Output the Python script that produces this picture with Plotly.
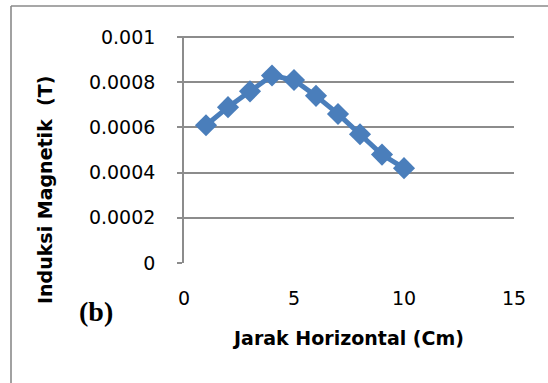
import plotly.graph_objects as go

# Horizontal distance (cm) and measured magnetic induction (T)
jarak_cm = [1, 2, 3, 4, 5, 6, 7, 8, 9, 10]
induksi_T = [0.00061, 0.00069, 0.00076, 0.00083, 0.00081,
             0.00074, 0.00066, 0.00057, 0.00048, 0.00042]

y_tickvals = [0, 0.0002, 0.0004, 0.0006, 0.0008, 0.001]
y_ticktext = ["0", "0.0002", "0.0004", "0.0006", "0.0008", "0.001"]
x_tickvals = [0, 5, 10, 15]
x_ticktext = ["0", "5", "10", "15"]

BLUE = "#4a7ebb"
GRID = "#8c8c8c"
TICK_FONT = dict(family="DejaVu Sans", size=19, color="#000000")

W, H = 548, 383
L, R, T, B = 184, 34, 36, 120
pw, ph = W - L - R, H - T - B


def px_x(p):
    return (p - L) / pw


def px_y(p):
    return (H - B - p) / ph


fig = go.Figure()
fig.add_trace(go.Scatter(
    x=jarak_cm, y=induksi_T, mode="lines+markers",
    line=dict(color=BLUE, width=5),
    marker=dict(symbol="diamond", size=17, color=BLUE),
    showlegend=False, hoverinfo="skip", cliponaxis=False,
))

fig.update_layout(
    width=W, height=H,
    margin=dict(l=L, r=R, t=T, b=B),
    paper_bgcolor="white", plot_bgcolor="white",
    xaxis=dict(
        range=[0, 15], tickvals=x_tickvals, ticktext=x_ticktext,
        showgrid=False, zeroline=False, showline=False,
        ticks="", tickfont=TICK_FONT, ticklabelstandoff=22,
        fixedrange=True,
    ),
    yaxis=dict(
        range=[0, 0.001005], tickvals=y_tickvals, ticktext=y_ticktext,
        showgrid=True, gridcolor=GRID, gridwidth=1.6,
        zeroline=False, showline=True, linecolor=GRID, linewidth=1.6,
        ticks="outside", ticklen=5, tickcolor=GRID, tickwidth=1.6,
        tickfont=TICK_FONT, ticklabelstandoff=18,
        fixedrange=True,
    ),
)

# Chart frame: left and top edges
frame = dict(color="#8a8a8a", width=1.6)
fig.add_shape(type="line", xref="paper", yref="paper",
              x0=px_x(11), x1=px_x(11), y0=px_y(H + 5), y1=px_y(6),
              line=frame, layer="below")
fig.add_shape(type="line", xref="paper", yref="paper",
              x0=px_x(11), x1=px_x(W + 5), y0=px_y(6), y1=px_y(6),
              line=frame, layer="below")

# Axis titles
fig.add_annotation(text="<b>Jarak Horizontal (Cm)</b>", xref="paper", yref="paper",
                   x=px_x(348), y=px_y(338), showarrow=False,
                   font=dict(family="DejaVu Sans", size=19, color="#000000"),
                   xanchor="center", yanchor="middle")
fig.add_annotation(text="<b>Induksi Magnetik  (T)</b>", xref="paper", yref="paper",
                   x=px_x(45), y=px_y(190), showarrow=False, textangle=-90,
                   font=dict(family="DejaVu Sans", size=19, color="#000000"),
                   xanchor="center", yanchor="middle")
# Panel label
fig.add_annotation(text="<b>(b)</b>", xref="paper", yref="paper",
                   x=px_x(96), y=px_y(311), showarrow=False,
                   font=dict(family="Liberation Serif", size=28, color="#000000"),
                   xanchor="center", yanchor="middle")

fig.write_html("out.html")
